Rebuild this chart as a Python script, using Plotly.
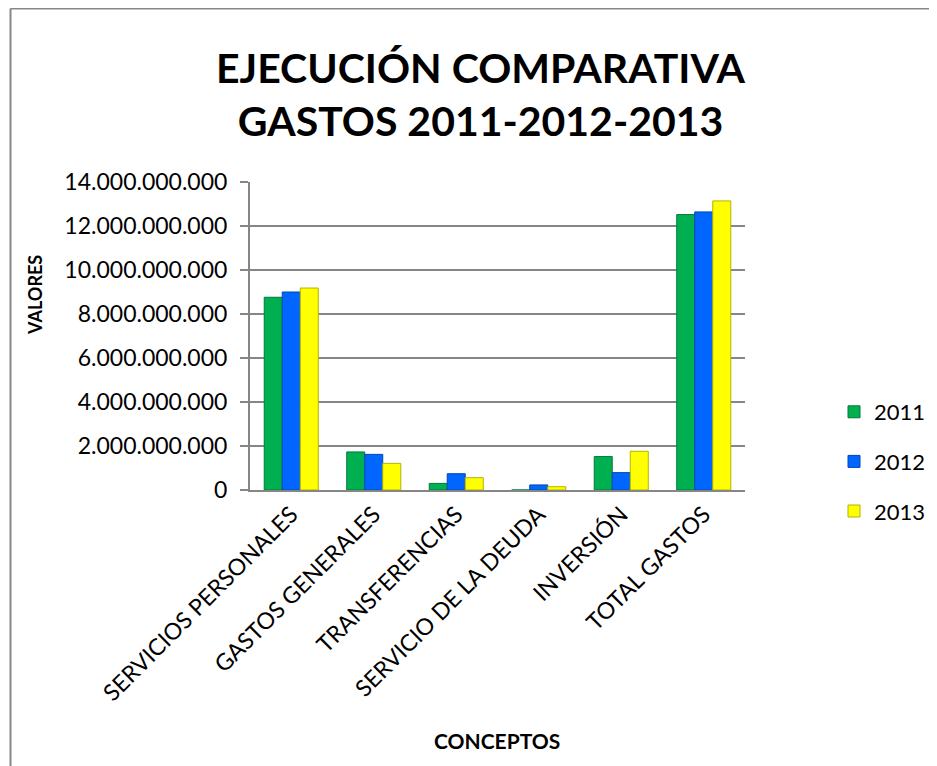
import plotly.graph_objects as go

categories = ["SERVICIOS PERSONALES", "GASTOS GENERALES", "TRANSFERENCIAS",
              "SERVICIO DE LA DEUDA", "INVERSIÓN", "TOTAL GASTOS"]
years = ["2011", "2012", "2013"]
v2011 = [8.76e9, 1.73e9, 0.30e9, 0.0, 1.52e9, 12.52e9]
v2012 = [9.00e9, 1.62e9, 0.74e9, 0.23e9, 0.79e9, 12.64e9]
v2013 = [9.18e9, 1.21e9, 0.56e9, 0.15e9, 1.76e9, 13.14e9]
yticks = [0, 2e9, 4e9, 6e9, 8e9, 10e9, 12e9, 14e9]

colors = ["#00B050", "#0066FF", "#FFFF00"]
edges = ["#007A38", "#0047B3", "#B3B300"]

W, H = 937, 766
L, R, T, B = 250, 745, 182, 490   # plot area in reference pixel coords
OFF = 8                           # page body offset

def px(x):
    return (x - L) / (R - L)

def py(y):
    return (B - y) / (B - T)

FONT = "Lato"

fig = go.Figure()
for name, vals, c, e in zip(years, [v2011, v2012, v2013], colors, edges):
    fig.add_trace(go.Bar(x=categories, y=vals, name=name, legendgroup=name,
                         marker=dict(color=c, line=dict(color=e, width=1))))

fig.update_layout(
    width=W, height=H,
    margin=dict(l=L - OFF, r=W - R + OFF, t=T - OFF, b=H - B + OFF),
    paper_bgcolor="white", plot_bgcolor="white",
    separators=",.",
    barmode="group", bargap=0.345, bargroupgap=0,
    font=dict(family=FONT, color="black"),
    showlegend=True,
    legend=dict(x=px(834), y=py(391), xanchor="left", yanchor="top",
                font=dict(size=22, family=FONT), tracegroupgap=18,
                itemwidth=30, bgcolor="rgba(0,0,0,0)"),
    xaxis=dict(tickangle=-45, tickfont=dict(size=23, family=FONT),
               showline=True, linecolor="#868686", linewidth=2,
               ticks="", showgrid=False),
    yaxis=dict(range=[0, 14e9], tickvals=yticks, tickformat=",.0f",
               tickfont=dict(size=23, family=FONT),
               showline=True, linecolor="#868686", linewidth=2,
               ticks="outside", ticklen=8, tickcolor="#868686", tickwidth=2,
               ticklabelstandoff=8,
               showgrid=True, gridcolor="#868686", gridwidth=2, zeroline=False),
)

fig.add_annotation(text="<b>EJECUCIÓN COMPARATIVA<br>GASTOS 2011-2012-2013</b>",
                   xref="paper", yref="paper", x=px(481), y=py(94),
                   xanchor="center", yanchor="middle", showarrow=False,
                   font=dict(size=41, family=FONT, color="black"))
fig.add_annotation(text="<b>VALORES</b>", textangle=-90,
                   xref="paper", yref="paper", x=px(35), y=py(295),
                   xanchor="center", yanchor="middle", showarrow=False,
                   font=dict(size=18, family=FONT, color="black"))
fig.add_annotation(text="<b>CONCEPTOS</b>",
                   xref="paper", yref="paper", x=px(497), y=py(740),
                   xanchor="center", yanchor="middle", showarrow=False,
                   font=dict(size=21, family=FONT, color="black"))

# chart border (top and left visible)
fig.add_shape(type="line", xref="paper", yref="paper",
              x0=px(10.5), y0=py(8.5), x1=px(W + 20), y1=py(8.5),
              line=dict(color="#878787", width=2))
fig.add_shape(type="line", xref="paper", yref="paper",
              x0=px(10.5), y0=py(8.5), x1=px(10.5), y1=py(H + 20),
              line=dict(color="#878787", width=2))

fig.write_html("out.html")
